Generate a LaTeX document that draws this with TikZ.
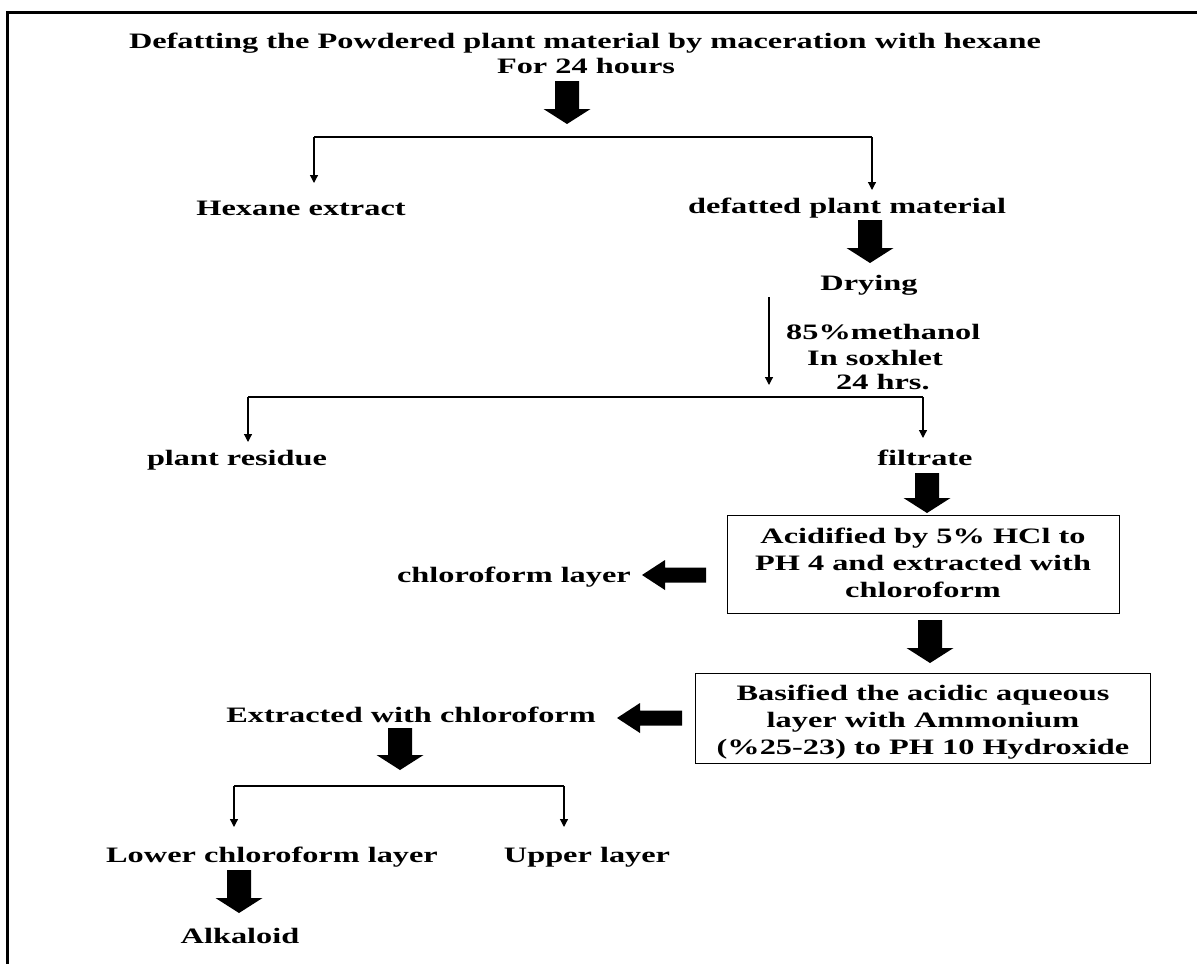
\documentclass[tikz,border=0pt]{standalone}
\usepackage{fontspec}
\usepackage{graphicx}
\setmainfont{Liberation Serif}
\usetikzlibrary{arrows.meta}
\newcommand{\wt}[1]{\scalebox{1.47}[1]{#1}}
% block arrow pointing down: centre x, top y, tip y
\newcommand{\BlockDown}[3]{\fill[black] (#1-12,#2) -- (#1+12,#2) -- (#1+12,#3-15) -- (#1+23.5,#3-15) -- (#1,#3) -- (#1-23.5,#3-15) -- (#1-12,#3-15) -- cycle;}
% block arrow pointing left: right end x, tip x, centre y
\newcommand{\BlockLeft}[3]{\fill[black] (#1,#3-7.5) -- (#1,#3+7.5) -- (#2+23,#3+7.5) -- (#2+23,#3+15) -- (#2,#3) -- (#2+23,#3-15) -- (#2+23,#3-7.5) -- cycle;}
\begin{document}
\begin{tikzpicture}[x=1pt,y=-1pt,
  every node/.style={font=\fontsize{22}{27}\selectfont\bfseries},
  txt/.style={inner sep=0pt, anchor=base},
  boxs/.style={draw, line width=1.4pt, inner sep=0pt, anchor=north west},
  thin/.style={line width=1.2pt},
  thinarr/.style={line width=1.2pt, -{Triangle[width=8pt,length=8pt]}}
]
\useasboundingbox (0,0) rectangle (1197,964);
\clip (0,0) rectangle (1197,964);
% outer frame (cut off at right and bottom)
\draw[line width=3pt] (7,980) -- (7,12) -- (1220,12);

% texts
\node[txt] (title1) at (585,48) {\wt{Defatting the Powdered plant material by maceration with hexane}};
\node[txt] (title2) at (586,73) {\wt{For 24 hours}};
\node[txt] (hex) at (301,215) {\wt{Hexane extract}};
\node[txt] (def) at (847,213) {\wt{defatted plant material}};
\node[txt] (dry) at (869,290) {\wt{Drying}};
\node[txt, anchor=base west] (m1) at (786,339) {\wt{85\%methanol}};
\node[txt, anchor=base west] (m2) at (807,365) {\wt{In soxhlet}};
\node[txt, anchor=base west] (m3) at (836,389) {\wt{24 hrs.}};
\node[txt] (res) at (237,465) {\wt{plant residue}};
\node[txt] (fil) at (925,465) {\wt{filtrate}};
\node[boxs, minimum width=392pt, minimum height=98pt] (box1) at (727,515) {};
\node[txt] (box1t) at (923,543) {\wt{\begin{tabular}[t]{@{}c@{}}Acidified by 5\% HCl to\\PH 4 and extracted with\\chloroform\end{tabular}}};
\node[txt, anchor=base east] (chl) at (631,582) {\wt{chloroform layer}};
\node[boxs, minimum width=455pt, minimum height=90pt] (box2) at (695,673) {};
\node[txt] (box2t) at (923,700) {\wt{\begin{tabular}[t]{@{}c@{}}Basified the acidic aqueous\\layer with Ammonium\\(\%25-23) to PH 10 Hydroxide\end{tabular}}};
\node[txt] (ext) at (411,722) {\wt{Extracted with chloroform}};
\node[txt] (low) at (272,862) {\wt{Lower chloroform layer}};
\node[txt] (up) at (587,862) {\wt{Upper layer}};
\node[txt] (alk) at (240,943) {\wt{Alkaloid}};

% block arrows
\BlockDown{567}{81}{124}
\BlockDown{870}{220}{263}
\BlockDown{927}{473}{513}
\BlockDown{930}{620}{663}
\BlockDown{400}{728}{770}
\BlockDown{239}{870}{913}
\BlockLeft{706}{642}{575}
\BlockLeft{682}{617}{718}

% split 1
\coordinate (s1l) at (314,137);
\coordinate (s1r) at (872,137);
\coordinate (t1l) at (314,183);
\coordinate (t1r) at (872,190);
\draw[thin] (s1l) -- (s1r);
\draw[thinarr] (s1l) -- (t1l);
\draw[thinarr] (s1r) -- (t1r);
% methanol arrow
\coordinate (ma) at (769,297);
\coordinate (mb) at (769,385);
\draw[thinarr] (ma) -- (mb);
% split 2
\coordinate (s2l) at (248,397);
\coordinate (s2r) at (923,397);
\coordinate (t2l) at (248,442);
\coordinate (t2r) at (923,438);
\draw[thin] (s2l) -- (s2r);
\draw[thinarr] (s2l) -- (t2l);
\draw[thinarr] (s2r) -- (t2r);
% split 3
\coordinate (s3l) at (234,786);
\coordinate (s3r) at (564,786);
\coordinate (t3l) at (234,827);
\coordinate (t3r) at (564,827);
\draw[thin] (s3l) -- (s3r);
\draw[thinarr] (s3l) -- (t3l);
\draw[thinarr] (s3r) -- (t3r);
\end{tikzpicture}
\end{document}
